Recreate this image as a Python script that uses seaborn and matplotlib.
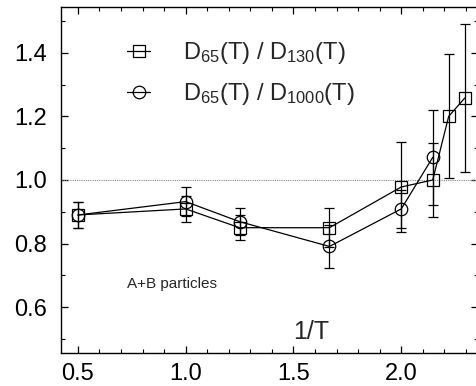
"""
Ratio of diffusion constants D65/D130 and D65/D1000 versus 1/T
"""
import pandas as pd
import seaborn as sns
import matplotlib.pyplot as plt
from matplotlib.ticker import MultipleLocator

# data
inv_t_130 = [0.5, 1.0, 1.25, 1.667, 2.0, 2.146, 2.22, 2.295]
ratio_130 = [0.89, 0.909, 0.85, 0.85, 0.978, 1.0, 1.2, 1.258]
err_130 = [0.04, 0.04, 0.04, 0.062, 0.14, 0.115, 0.195, 0.233]

inv_t_1000 = [0.5, 1.0, 1.25, 1.667, 2.0, 2.146]
ratio_1000 = [0.89, 0.932, 0.869, 0.791, 0.909, 1.071]
err_1000 = [0.04, 0.045, 0.043, 0.067, 0.06, 0.15]

label_130 = r'D$_{65}$(T) / D$_{130}$(T)'
label_1000 = r'D$_{65}$(T) / D$_{1000}$(T)'

df = pd.concat([
    pd.DataFrame({'x': inv_t_130, 'y': ratio_130, 'series': label_130}),
    pd.DataFrame({'x': inv_t_1000, 'y': ratio_1000, 'series': label_1000}),
])

sns.set_style('ticks')
plt.rcParams['font.family'] = ['Liberation Sans', 'DejaVu Sans']
plt.rcParams['mathtext.fontset'] = 'custom'
plt.rcParams['mathtext.rm'] = 'Liberation Sans'
plt.rcParams['mathtext.it'] = 'Liberation Sans:italic'

fig = plt.figure(figsize=(4.77, 3.86), dpi=100)
ax = fig.add_axes([0.128, 0.0855, 0.875, 0.896])

ax.axhline(1.0, color='#888888', lw=0.8, ls=(0, (1, 1)), zorder=1)

sns.lineplot(
    data=df, x='x', y='y', hue='series', style='series',
    palette=['black', 'black'], markers=['s', 'o'], dashes=False,
    markersize=9, markerfacecolor='none', markeredgecolor='black',
    markeredgewidth=0.9, linewidth=0.9, ax=ax, zorder=3,
)

# error bars
ax.errorbar(inv_t_130, ratio_130, yerr=err_130, fmt='none', ecolor='black',
            elinewidth=0.9, capsize=3.5, capthick=0.9, zorder=2)
ax.errorbar(inv_t_1000, ratio_1000, yerr=err_1000, fmt='none', ecolor='black',
            elinewidth=0.9, capsize=3.5, capthick=0.9, zorder=2)

ax.set_xlim(0.422, 2.358)
ax.set_ylim(0.456, 1.5435)
ax.xaxis.set_major_locator(MultipleLocator(0.5))
ax.xaxis.set_minor_locator(MultipleLocator(0.1))
ax.yaxis.set_major_locator(MultipleLocator(0.2))
ax.yaxis.set_minor_locator(MultipleLocator(0.1))
ax.tick_params(which='both', direction='in', top=True, right=True, colors='black')
ax.tick_params(which='major', length=5, width=0.9, labelsize=17)
ax.tick_params(which='minor', length=3, width=0.8)
ax.tick_params(axis='y', pad=10)
ax.tick_params(axis='x', pad=7)
ax.set_xlabel('')
ax.set_ylabel('')
ax.spines['right'].set_visible(False)
for s in ['left', 'bottom', 'top']:
    ax.spines[s].set_linewidth(1.0)
    ax.spines[s].set_color('black')

ax.text(0.599, 0.061, '1/T', transform=ax.transAxes, fontsize=18,
        ha='center', va='center')
ax.text(0.159, 0.199, 'A+B particles', transform=ax.transAxes, fontsize=11,
        ha='left', va='center')

ax.legend(loc='upper left', bbox_to_anchor=(0.159, 0.905), frameon=False,
          fontsize=17, handlelength=0.95, handletextpad=1.4,
          labelspacing=0.65, borderpad=0, borderaxespad=0)

plt.savefig('out.png', dpi=100)
